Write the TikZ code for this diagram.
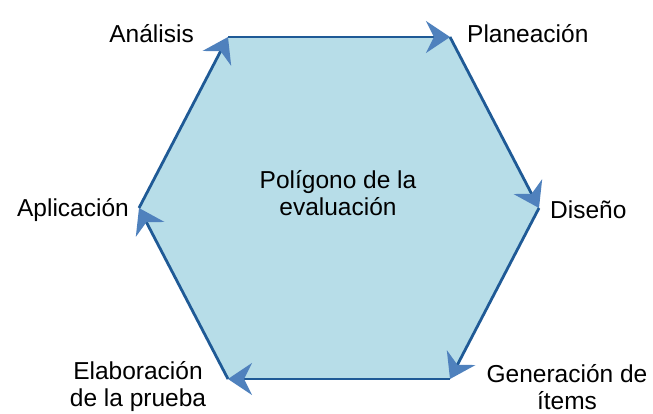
\documentclass[tikz,border=0pt]{standalone}
\usepackage{fontspec}
\setmainfont{Liberation Sans}
\usepackage{xcolor}
\usepackage{tikz}
\usetikzlibrary{arrows.meta}

\definecolor{hexfill}{HTML}{B7DDE8}
\definecolor{hexline}{HTML}{1F5A96}
\definecolor{tipblue}{HTML}{4F81BD}

\tikzset{
    edge/.style = {line width = 2.8pt, color = hexline,
        -{Stealth[length = 24pt, width = 32pt, inset = 8pt, color = tipblue]}},
    lbl/.style = {font = \fontsize{24.5}{27}\selectfont, inner sep = 0pt, align = center}
}

\begin{document}
\begin{tikzpicture}[x = 1pt, y = -1pt]
        \useasboundingbox (0, 0) rectangle (653, 414);

        \coordinate (ana) at (228, 37);
        \coordinate (pla) at (450, 37);
        \coordinate (dis) at (539, 208);
        \coordinate (gen) at (450, 379);
        \coordinate (ela) at (228, 379);
        \coordinate (apl) at (139, 208);

        \fill[hexfill] (ana) -- (pla) -- (dis) -- (gen) -- (ela) -- (apl) -- cycle;

        \draw[edge] (ana) -- (pla);
        \draw[edge] (pla) -- (dis);
        \draw[edge] (dis) -- (gen);
        \draw[edge] (gen) -- (ela);
        \draw[edge] (ela) -- (apl);
        \draw[edge] (apl) -- (ana);

        \node[lbl, anchor = east] (tana) at (194, 34) {Análisis};
        \node[lbl, anchor = west] (tpla) at (467, 34) {Planeación};
        \node[lbl, anchor = west] (tdis) at (550, 210) {Diseño};
        \node[lbl] (tgen) at (567, 387) {Generación de\\ítems};
        \node[lbl] (tela) at (138, 387) {Elaboración\\de la prueba};
        \node[lbl, anchor = east] (tapl) at (129, 210) {Aplicación};
        \node[lbl] (tpol) at (338, 193) {Polígono de la\\evaluación};
    \end{tikzpicture}
\end{document}
